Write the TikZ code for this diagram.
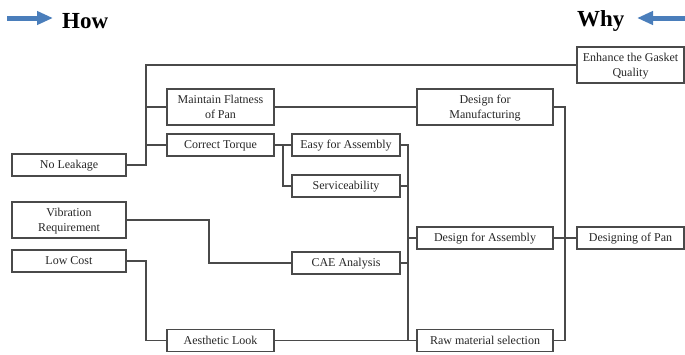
\documentclass[tikz,border=0pt]{standalone}
\usepackage{fontspec}
\setmainfont{Liberation Serif}
\usetikzlibrary{arrows.meta}
\definecolor{linegray}{HTML}{4A4A4A}
\definecolor{txtgray}{HTML}{262626}
\definecolor{arrowblue}{HTML}{4A7EBB}
\begin{document}
\begin{tikzpicture}[x=1pt,y=-1pt,
  box/.style={draw=linegray,line width=1.1pt,rectangle,inner sep=0pt,
    minimum height=22pt,align=center,text=txtgray,text depth=0.5pt,
    font=\fontsize{12}{14.5}\selectfont},
  tall/.style={minimum height=36pt},
  conn/.style={draw=linegray,line width=1.1pt},
  head/.style={font=\fontsize{23}{26}\bfseries\selectfont,inner sep=0pt,text=black},
  bluearrow/.style={draw=arrowblue,line width=5pt,-{Triangle[length=16pt,width=13pt]}}
]
\useasboundingbox (0,0) rectangle (685,354);
% headings
\node[head,anchor=west] (how) at (62,21) {How};
\node[head,anchor=west] (why) at (577,21) {Why};
\coordinate (howtail) at (7,18);
\coordinate (howtip) at (53,18);
\coordinate (whytail) at (685,18);
\coordinate (whytip) at (637,18);
\draw[bluearrow] (howtail) -- (howtip);
\draw[bluearrow] (whytail) -- (whytip);
% boxes
\node[box,minimum width=114pt] (noleak) at (69,165) {No Leakage};
\node[box,tall,minimum width=107pt] (maint) at (220.5,107) {Maintain Flatness\\of Pan};
\node[box,minimum width=107pt] (torque) at (220.5,145) {Correct Torque};
\node[box,minimum width=108pt] (easy) at (346,145) {Easy for Assembly};
\node[box,minimum width=108pt] (serv) at (346,186) {Serviceability};
\node[box,tall,minimum width=114pt] (vib) at (69,220) {Vibration\\Requirement};
\node[box,minimum width=114pt] (low) at (69,261) {Low Cost};
\node[box,minimum width=108pt] (cae) at (346,263) {CAE Analysis};
\node[box,minimum width=107pt] (aes) at (220.5,340.5) {Aesthetic Look};
\node[box,tall,minimum width=136pt] (dfm) at (485,107) {Design for\\Manufacturing};
\node[box,minimum width=136pt] (dfa) at (485,238) {Design for Assembly};
\node[box,minimum width=136pt] (raw) at (485,340.5) {Raw material selection};
\node[box,tall,minimum width=107pt] (enh) at (630.5,65) {Enhance the Gasket\\Quality};
\node[box,minimum width=107pt] (dop) at (630.5,238) {Designing of Pan};
% junction columns
\coordinate (j1) at (146,0);
\coordinate (j2) at (283,0);
\coordinate (j3) at (408,0);
\coordinate (j4) at (209,0);
\coordinate (j5) at (565,0);
% connectors
\draw[conn] (noleak.east) -- (noleak.east -| j1) |- (enh.west);
\draw[conn] (maint.west) -- (maint.west -| j1);
\draw[conn] (torque.west) -- (torque.west -| j1);
\draw[conn] (maint.east) -- (dfm.west);
\draw[conn] (torque.east) -- (easy.west);
\draw[conn] (torque.east -| j2) |- (serv.west);
\draw[conn] (easy.east) -| (raw.west -| j3);
\draw[conn] (serv.east) -- (serv.east -| j3);
\draw[conn] (cae.east) -- (cae.east -| j3);
\draw[conn] (dfa.west) -- (dfa.west -| j3);
\draw[conn] (aes.east) -- (raw.west);
\draw[conn] (vib.east) -- (vib.east -| j4) |- (cae.west);
\draw[conn] (low.east) -- (low.east -| j1) |- (aes.west);
\draw[conn] (dfm.east) -| (raw.east -| j5) -- (raw.east);
\draw[conn] (dfa.east) -- (dop.west);
\end{tikzpicture}
\end{document}
